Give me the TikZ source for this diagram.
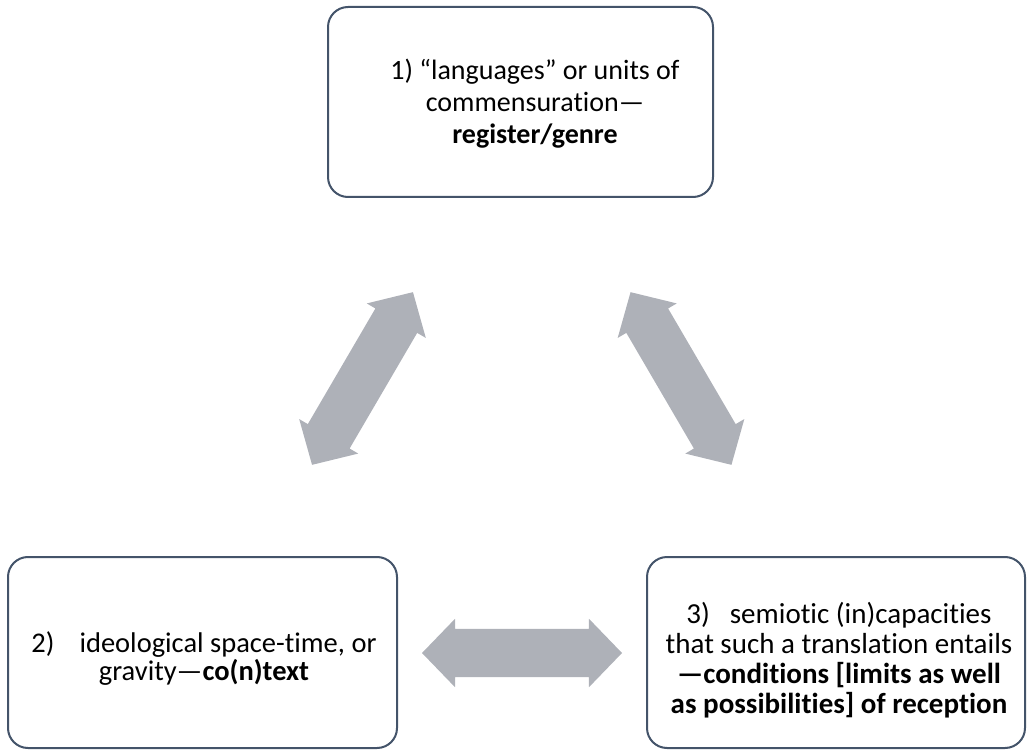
\documentclass[tikz,border=0pt]{standalone}
\usepackage{fontspec}
\setmainfont[Ligatures=NoCommon]{Carlito}
\usetikzlibrary{shapes.arrows}
\definecolor{boxline}{RGB}{68,84,106}
\definecolor{arrowgray}{RGB}{174,177,184}
\tikzset{
  box/.style={draw=boxline, line width=2pt, rounded corners=20pt, fill=white, inner sep=0pt},
  label/.style={align=center, inner sep=0pt, text=black},
  dblarrow/.style={double arrow, fill=arrowgray, draw=none, inner xsep=0pt, inner ysep=24pt,
    minimum height=200pt, minimum width=68pt, double arrow head extend=10pt,
    double arrow tip angle=92}
}
\begin{document}
\begin{tikzpicture}[x=1pt,y=-1pt]
\useasboundingbox (0,0) rectangle (1028,751);
% boxes
\node[box, minimum width=385pt, minimum height=190pt] (b1) at (520.5,102) {};
\node[box, minimum width=389pt, minimum height=191pt] (b2) at (202.5,652.5) {};
\node[box, minimum width=378pt, minimum height=191pt] (b3) at (836,652.5) {};
% texts
\node[label, font=\fontsize{28pt}{32pt}\selectfont] (t1) at (535,104)
  {1) “languages” or units of\\commensuration—\\\textbf{register/genre}};
\node[label, font=\fontsize{28.5pt}{28pt}\selectfont] (t2) at (204,658.5)
  {2)\hspace*{25pt}ideological space-time, or\\gravity—\textbf{co(n)text}};
\node[label, font=\fontsize{29pt}{30pt}\selectfont] (t3) at (839,660)
  {3)\hspace*{20pt}semiotic (in)capacities\\that such a translation entails\\\textbf{—conditions [limits as well}\\\textbf{as possibilities] of reception}};
% arrows
\node[dblarrow, rotate=59.7] (a12) at (362.5,378.5) {};
\node[dblarrow, rotate=-59.7] (a13) at (681,378.5) {};
\node[dblarrow] (a23) at (522,653) {};
\end{tikzpicture}
\end{document}
